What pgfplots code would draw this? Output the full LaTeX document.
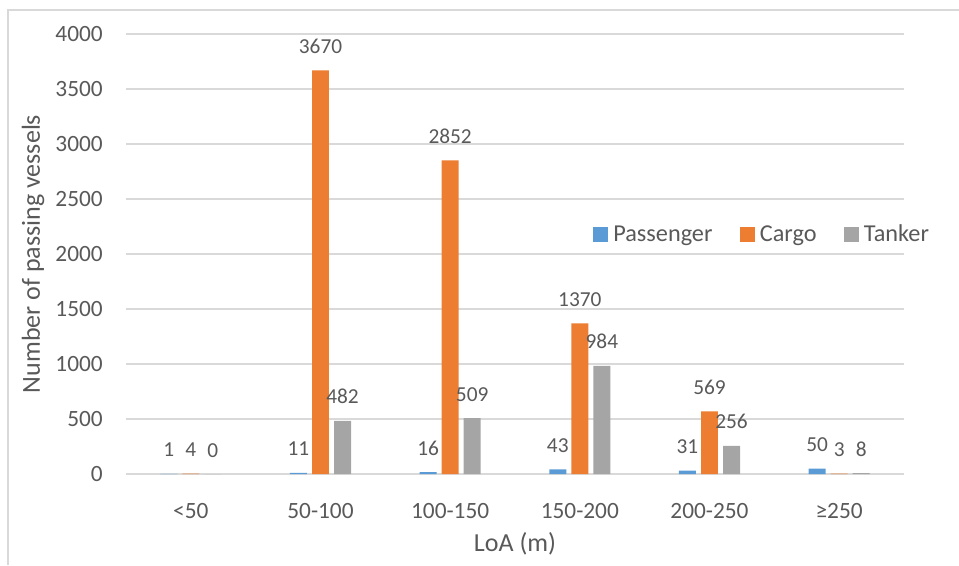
\documentclass[border=0pt]{standalone}
\usepackage{pgfplots}
\pgfplotsset{compat=1.18}
\usepackage{fontspec}
\setmainfont{Carlito}

\definecolor{passblue}{HTML}{5B9BD5}
\definecolor{cargoorange}{HTML}{ED7D31}
\definecolor{tankergray}{HTML}{A5A5A5}
\definecolor{gridgray}{HTML}{D9D9D9}
\definecolor{txtgray}{HTML}{595959}

% counts per length class (0 = <50, ..., 5 = >=250)
\pgfplotstableread{
x  passenger cargo tanker
0  1         4     0
1  11        3670  482
2  16        2852  509
3  43        1370  984
4  31        569   256
5  50        3     8
}\vessels

\begin{document}
\begin{tikzpicture}
% frame (1px = 0.75pt)
\useasboundingbox (0,0) rectangle (719.25pt,423.75pt);
\draw[gridgray, line width=1.1pt] (6pt,0) -- (6pt,416.25pt) -- (719.25pt,416.25pt);
\begin{axis}[
  at={(94.5pt,68.25pt)}, anchor=south west,
  scale only axis, width=583.5pt, height=330pt,
  xmin=-0.5, xmax=5.5, ymin=0, ymax=4000,
  axis line style={draw=none},
  tick style={draw=none},
  ytick={0,500,...,4000},
  xtick={0,...,5},
  xticklabels={<50,50-100,100-150,150-200,200-250,≥250},
  ymajorgrids, grid style={gridgray, line width=1.1pt},
  /pgf/number format/assume math mode=true,
  /pgf/number format/1000 sep={},
  ticklabel style={text=txtgray, font=\fontsize{17.5}{20}\selectfont, inner sep=0pt},
  yticklabel style={anchor=east, xshift=-17.25pt},
  xticklabel style={anchor=base, yshift=-29.25pt},
  xlabel={LoA (m)},
  ylabel={Number of passing vessels},
  label style={text=txtgray, font=\fontsize{19.5}{22}\selectfont, inner sep=0pt},
  xlabel style={at={(axis description cs:0.5,0)}, anchor=base, yshift=-57.75pt},
  ylabel style={at={(axis description cs:0,0.5)}, anchor=base, rotate=0, yshift=64.5pt},
  ybar, bar width=0.131,
  nodes near coords,
  every node near coord/.append style={text=txtgray, font=\fontsize{16}{19}\selectfont, anchor=base, yshift=12.75pt, inner sep=0pt},
  legend columns=3,
  legend image code/.code={\fill[#1] (0pt,-5.5pt) rectangle (11pt,5.5pt);},
  legend style={at={(rel axis cs:0.6003,0.544)}, anchor=west, draw=none, fill=none, inner sep=0pt,
    font=\fontsize{18.2}{21}\selectfont, text=txtgray,
    nodes={inner sep=0pt, text height=12pt, text depth=2pt, anchor=center},
    /tikz/every odd column/.append style={column sep=4pt},
    /tikz/every even column/.append style={column sep=20.5pt}},
]
\addplot[draw=none, fill=passblue, bar shift=-0.17] table[x=x, y=passenger] {\vessels};
\addplot[draw=none, fill=cargoorange, bar shift=0] table[x=x, y=cargo] {\vessels};
\addplot[draw=none, fill=tankergray, bar shift=0.17] table[x=x, y=tanker] {\vessels};
\legend{Passenger, Cargo, Tanker}
\end{axis}
\end{tikzpicture}
\end{document}
